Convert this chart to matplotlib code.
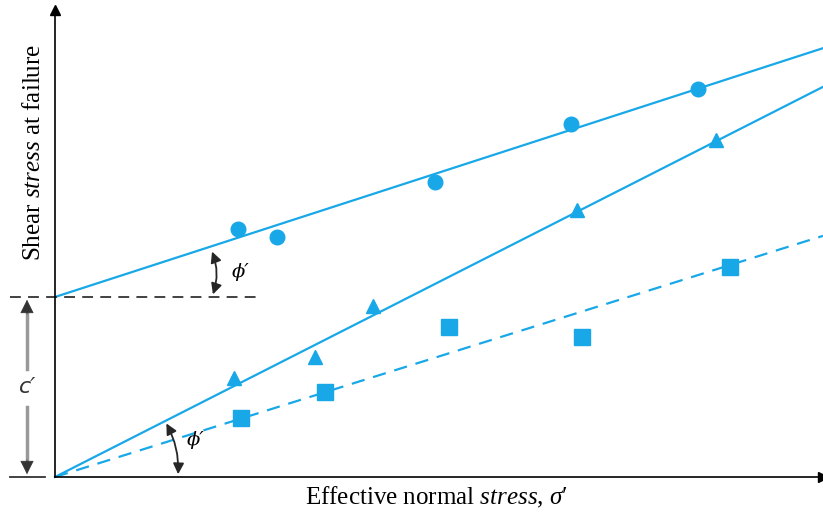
import numpy as np
import matplotlib.pyplot as plt

# Mohr-Coulomb failure envelopes (axis units are arbitrary, origin at 0,0)
circle_x = [183, 222, 380, 516, 643]
circle_y = [248, 240, 295, 353, 388]
triangle_x = [179, 260, 318, 522, 661]
triangle_y = [99, 120, 171, 267, 337]
square_x = [186, 270, 394, 527, 675]
square_y = [59, 85, 150, 140, 210]

# envelopes: intercept c' and slope tan(phi')
intercepts = [180, 0, 0]
slopes = [0.324, 0.508, 0.314]

blue = '#18a8e8'
plt.rcParams['font.family'] = ['Liberation Serif', 'DejaVu Serif']
plt.rcParams['mathtext.fontset'] = 'custom'
plt.rcParams['mathtext.rm'] = 'Liberation Serif'
plt.rcParams['mathtext.it'] = 'Liberation Serif:italic'

fig = plt.figure(figsize=(8.23, 5.13), dpi=100)
ax = fig.add_axes([55 / 823, 36 / 513, 768 / 823, 467 / 513])
xmax, ymax = 768, 467
ax.set_xlim(0, xmax)
ax.set_ylim(0, ymax)
for s in ['top', 'right']:
    ax.spines[s].set_visible(False)
ax.spines['left'].set_linewidth(1.2)
ax.spines['bottom'].set_linewidth(1.2)
ax.set_xticks([])
ax.set_yticks([])
# arrow heads on the axes
ax.plot(1, 0, '>k', transform=ax.get_yaxis_transform(), clip_on=False, ms=7)
ax.plot(0, 1, '^k', transform=ax.get_xaxis_transform(), clip_on=False, ms=7)

xs = np.array([0, xmax])
styles = ['-', '-', (0, (6, 4))]
for c, m, ls in zip(intercepts, slopes, styles):
    ax.plot(xs, c + m * xs, color=blue, lw=1.6, ls=ls, clip_on=False)

ax.plot(circle_x, circle_y, 'o', color=blue, ms=10.5)
ax.plot(triangle_x, triangle_y, '^', color=blue, ms=10)
ax.plot(square_x, square_y, 's', color=blue, ms=11)

# cohesion reference lines
ax.plot([-45, 205], [intercepts[0], intercepts[0]], color='0.2', lw=1.3,
        ls=(0, (6, 4)), clip_on=False)
ax.plot([-45, -10], [0, 0], color='0.2', lw=1.3, clip_on=False)

# c' dimension arrow (grey shaft, dark heads)
ax.plot([-28, -28], [108, 165], color='0.6', lw=2.5, clip_on=False)
ax.plot([-28, -28], [15, 70], color='0.6', lw=2.5, clip_on=False)
ax.annotate('', xy=(-28, intercepts[0]), xytext=(-28, 160),
            arrowprops=dict(arrowstyle='-|>', color='0.2', lw=0.5,
                            mutation_scale=22), annotation_clip=False)
ax.annotate('', xy=(-28, 0), xytext=(-28, 20),
            arrowprops=dict(arrowstyle='-|>', color='0.2', lw=0.5,
                            mutation_scale=22), annotation_clip=False)
ax.text(-27, 90, "c′", fontsize=16, style='italic', ha='center', va='center',
        color='0.2', family=['DejaVu Sans'])

# friction angle arrows
ax.annotate('', xy=(157, 180), xytext=(156, 228),
            arrowprops=dict(arrowstyle='<|-|>', color='0.15', lw=1.3,
                            mutation_scale=16, connectionstyle='arc3,rad=-0.2'))
ax.text(177, 205, "ϕ′", fontsize=14, style='italic', ha='left', va='center',
        family=['DejaVu Serif'])
ax.annotate('', xy=(123, 0), xytext=(110, 56),
            arrowprops=dict(arrowstyle='<|-|>', color='0.15', lw=1.3,
                            mutation_scale=16, connectionstyle='arc3,rad=-0.15'))
ax.text(132, 37, "ϕ′", fontsize=14, style='italic', ha='left', va='center',
        family=['DejaVu Serif'])

fig.text(436 / 823, 1 - 497 / 513, "Effective normal $\\it{stress}$, $\\sigma$′",
         fontsize=18, ha='center', va='center')
fig.text(34 / 823, 1 - 152 / 513, "Shear $\\it{stress}$ at failure",
         fontsize=18, ha='center', va='center', rotation=90)

fig.savefig('out.png', dpi=100)
